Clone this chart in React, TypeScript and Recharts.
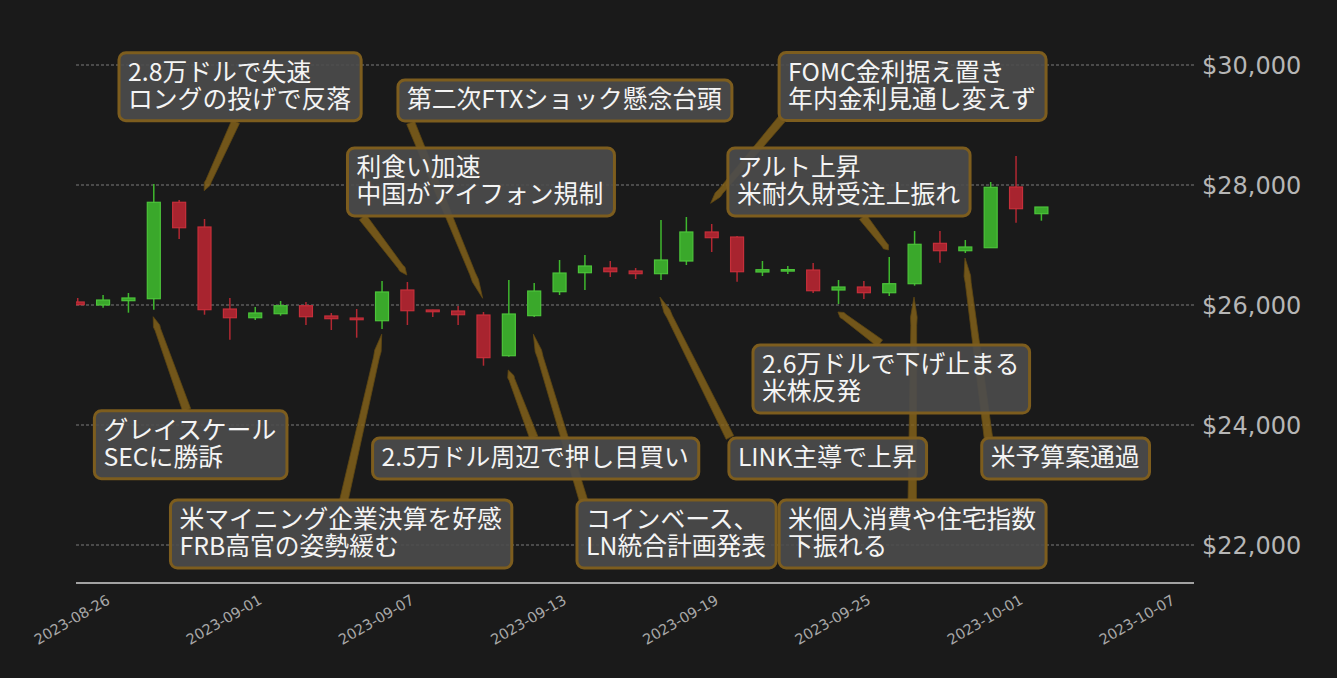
import {
    Bar,
    CartesianGrid,
    ComposedChart,
    ReferenceDot,
    ReferenceLine,
    XAxis,
    YAxis
} from "recharts";

// daily BTC/USD candles, 2023-08-26 .. 2023-10-03
const dates = [
    "08-26", "08-27", "08-28", "08-29", "08-30", "08-31", "09-01", "09-02", "09-03", "09-04",
    "09-05", "09-06", "09-07", "09-08", "09-09", "09-10", "09-11", "09-12", "09-13", "09-14",
    "09-15", "09-16", "09-17", "09-18", "09-19", "09-20", "09-21", "09-22", "09-23", "09-24",
    "09-25", "09-26", "09-27", "09-28", "09-29", "09-30", "10-01", "10-02", "10-03"
];
const opens = [
    26050, 26000, 26072, 26105, 27712, 27300, 25933, 25788, 25855, 25988,
    25817, 25783, 25738, 26250, 25917, 25900, 25833, 25155, 25822, 26222,
    26538, 26617, 26567, 26522, 26733, 27217, 27133, 26550, 26567, 26583,
    26250, 26300, 26205, 26355, 27028, 26905, 26955, 27967, 27522
];
const highs = [
    26117, 26167, 26200, 28017, 27750, 27433, 26117, 25967, 26067, 26050,
    25867, 25933, 26400, 26383, 25920, 25983, 25883, 26417, 26367, 26750,
    26833, 26733, 26617, 27417, 27467, 27350, 27150, 26733, 26650, 26700,
    26417, 26400, 26800, 27233, 27233, 27083, 28050, 28483, 27633
];
const lows = [
    26000, 25955, 25872, 25922, 27100, 25838, 25422, 25750, 25822, 25667,
    25583, 25455, 25600, 25667, 25800, 25667, 24988, 25138, 25800, 26167,
    26250, 26467, 26433, 26417, 26667, 26883, 26388, 26483, 26517, 26200,
    26017, 26100, 26150, 26322, 26705, 26867, 26955, 27372, 27405
];
const closes = [
    26005, 26083, 26117, 27712, 27288, 25922, 25788, 25867, 25988, 25805,
    25772, 25755, 26217, 25905, 25888, 25838, 25122, 25850, 26233, 26533,
    26650, 26555, 26522, 26750, 27217, 27122, 26555, 26588, 26588, 26238,
    26300, 26205, 26355, 27012, 26905, 26967, 27962, 27605, 27633
];

// date ticks on the x axis (x is counted in candles, first candle = 0)
const tickLabels = [
    "2023-08-26", "2023-09-01", "2023-09-07", "2023-09-13",
    "2023-09-19", "2023-09-25", "2023-10-01", "2023-10-07"
];
const tickPositions = [1.5, 7.5, 13.5, 19.5, 25.5, 31.5, 37.5, 43.5];
const priceTicks = [22000, 24000, 26000, 28000, 30000];

// annotations: text, box top-left, arrow tail, arrow head (candle index, price)
const noteTexts = [
    "2.8万ドルで失速\nロングの投げで反落",
    "第二次FTXショック懸念台頭",
    "利食い加速\n中国がアイフォン規制",
    "FOMC金利据え置き\n年内金利見通し変えず",
    "アルト上昇\n米耐久財受注上振れ",
    "グレイスケール\nSECに勝訴",
    "米マイニング企業決算を好感\nFRB高官の姿勢緩む",
    "2.5万ドル周辺で押し目買い",
    "コインベース、\nLN統合計画発表",
    "LINK主導で上昇",
    "2.6万ドルで下げ止まる\n米株反発",
    "米個人消費や住宅指数\n下振れる",
    "米予算案通過"
];
const noteBoxes: [number, number][] = [
    [1.64, 30205], [12.64, 29750], [10.65, 28617], [27.67, 30208], [25.65, 28617],
    [0.67, 24238], [3.67, 22750], [11.64, 23783], [19.7, 22750], [25.69, 23783],
    [26.64, 25333], [27.67, 22750], [35.66, 23783]
];
const noteTails: [number, number][] = [
    [6.24, 29055], [13.14, 29038], [11.25, 27462], [27.77, 29095], [30.97, 27467],
    [4.31, 24250], [10.51, 22750], [18.0, 23788], [19.95, 22750], [25.73, 23792],
    [31.65, 25362], [32.92, 22762], [35.92, 23795]
];
const noteHeads: [number, number][] = [
    [5.0, 27905], [15.98, 26112], [12.99, 26500], [24.97, 27695], [31.98, 26917],
    [2.99, 25805], [12.0, 25512], [16.99, 24917], [17.98, 25512], [22.97, 26133],
    [29.99, 25883], [32.99, 26133], [35.0, 26783]
];

const BG = "#1a1a1a";
const FONT = '"Noto Sans CJK JP", "Noto Sans", sans-serif';
const TICK_FONT = '"DejaVu Sans", sans-serif';
const NOTE_SIZE = 24.8;
const LINE_H = 27;

const data = dates.map((date, i) => ({
    i,
    date,
    open: opens[i],
    high: highs[i],
    low: lows[i],
    close: closes[i],
    range: [lows[i], highs[i]]
}));

let measureCtx: CanvasRenderingContext2D | null = null;
function textWidth(s: string) {
    if (!measureCtx) measureCtx = document.createElement("canvas").getContext("2d");
    if (!measureCtx) return s.length * NOTE_SIZE;
    measureCtx.font = `${NOTE_SIZE}px "Noto Sans CJK JP"`;
    return measureCtx.measureText(s).width;
}

function boxSize(text: string) {
    const lines = text.split("\n");
    const w = Math.max(...lines.map(textWidth)) + 19;
    const h = 41 + LINE_H * (lines.length - 1);
    return { lines, w, h };
}

function Candle(props: any) {
    const { x, y, width, height, payload } = props;
    if (x == null || y == null || !payload) return null;
    const { open, close, high, low } = payload;
    const up = close >= open;
    const yTop = Math.min(y, y + height);
    const yBot = Math.max(y, y + height);
    const span = high - low || 1;
    const toY = (v: number) => yTop + ((high - v) / span) * (yBot - yTop);
    const cx = x + width / 2;
    let top = toY(Math.max(open, close));
    let bottom = toY(Math.min(open, close));
    if (bottom - top < 1.5) {
        const mid = (top + bottom) / 2;
        top = mid - 0.75;
        bottom = mid + 0.75;
    }
    const fill = up ? "#3aa82b" : "#a8242f";
    const edge = up ? "#4cc43a" : "#c62f3a";
    const wick = up ? "#3fb82e" : "#b22832";
    const bw = 13;
    return (
        <g>
            <line x1={cx} x2={cx} y1={yTop} y2={yBot} stroke={wick} strokeWidth={1.5} />
            <rect x={cx - bw / 2} y={top} width={bw} height={bottom - top} fill={fill} stroke={edge} strokeWidth={1.2} />
        </g>
    );
}

function NoteBox({ cx, cy, text }: { cx: number; cy: number; text: string }) {
    if (cx == null || cy == null) return null;
    const { w, h } = boxSize(text);
    return (
        <rect
            x={cx}
            y={cy}
            width={w}
            height={h}
            rx={7}
            ry={7}
            fill="#4d4d4d"
            fillOpacity={0.9}
            stroke="#7d5d1e"
            strokeWidth={3}
        />
    );
}

function NoteText({ cx, cy, text }: { cx: number; cy: number; text: string }) {
    if (cx == null || cy == null) return null;
    const { lines } = boxSize(text);
    return (
        <text x={cx + 9} y={cy + 28} fill="#f4f4f4" fontSize={NOTE_SIZE} fontFamily={FONT}>
            {lines.map((line, k) => (
                <tspan key={k} x={cx + 9} y={cy + 28 + k * LINE_H}>
                    {line}
                </tspan>
            ))}
        </text>
    );
}

function Wedge(props: any) {
    const { x1, y1, x2, y2 } = props;
    if ([x1, y1, x2, y2].some((v) => v == null || isNaN(v))) return null;
    const dx = x2 - x1;
    const dy = y2 - y1;
    const len = Math.hypot(dx, dy) || 1;
    const nx = -dy / len;
    const ny = dx / len;
    const at = (t: number, half: number) => `${x1 + dx * t + nx * half},${y1 + dy * t + ny * half}`;
    const pts = [
        at(0, 4.2), at(0.86, 2.9), at(0.9, 3.3), `${x2},${y2}`,
        at(0.9, -3.3), at(0.86, -2.9), at(0, -4.2)
    ].join(" ");
    return <polygon points={pts} fill="#86641b" fillOpacity={0.82} stroke="#5e4612" strokeWidth={0.8} />;
}

function DateTick(props: any) {
    const { x, y, payload } = props;
    const k = tickPositions.indexOf(payload.value);
    const tx = x - 4.5;
    const ty = y + 20;
    return (
        <text
            x={tx}
            y={ty}
            transform={`rotate(-30, ${tx}, ${ty})`}
            textAnchor="end"
            fill="#a8a8a8"
            fontSize={14.5}
            fontFamily={TICK_FONT}
        >
            {k >= 0 ? tickLabels[k] : ""}
        </text>
    );
}

export default function App() {
    return (
        <div style={{ position: "fixed", left: 0, top: 0, width: 1337, height: 678, background: BG }}>
            <ComposedChart
                width={1337}
                height={678}
                data={data}
                margin={{ top: 20, right: 0, bottom: 35, left: 76 }}
            >
                <CartesianGrid
                    horizontal
                    vertical={false}
                    horizontalValues={priceTicks}
                    stroke="#959595"
                    strokeDasharray="3 2"
                    strokeWidth={0.8}
                />
                <XAxis
                    dataKey="i"
                    type="number"
                    domain={[-0.055, 44.03]}
                    allowDataOverflow
                    ticks={tickPositions}
                    interval={0}
                    tick={<DateTick />}
                    tickLine={false}
                    tickSize={0}
                    tickMargin={0}
                    height={60}
                    axisLine={{ stroke: "#d0d0d0", strokeWidth: 1.6 }}
                />
                <YAxis
                    orientation="right"
                    type="number"
                    domain={[21366.7, 30750]}
                    allowDataOverflow
                    ticks={priceTicks}
                    width={143}
                    axisLine={false}
                    tickLine={false}
                    tickSize={0}
                    tickMargin={8}
                    tickFormatter={(v: number) => `$${v.toLocaleString("en-US")}`}
                    tick={{ fill: "#b6b6b6", fontSize: 24, fontFamily: TICK_FONT }}
                />
                <Bar dataKey="range" barSize={14} isAnimationActive={false} shape={<Candle />} />
                {noteBoxes.map(([bx, by], k) => (
                    <ReferenceDot
                        key={`box-${k}`}
                        x={bx}
                        y={by}
                        r={0}
                        shape={(p: any) => <NoteBox cx={p.cx} cy={p.cy} text={noteTexts[k]} />}
                    />
                ))}
                {noteTails.map(([tx, ty], k) => (
                    <ReferenceLine
                        key={`arrow-${k}`}
                        segment={[
                            { x: tx, y: ty },
                            { x: noteHeads[k][0], y: noteHeads[k][1] }
                        ]}
                        shape={(p: any) => <Wedge {...p} />}
                    />
                ))}
                {noteBoxes.map(([bx, by], k) => (
                    <ReferenceDot
                        key={`text-${k}`}
                        x={bx}
                        y={by}
                        r={0}
                        shape={(p: any) => <NoteText cx={p.cx} cy={p.cy} text={noteTexts[k]} />}
                    />
                ))}
            </ComposedChart>
        </div>
    );
}
